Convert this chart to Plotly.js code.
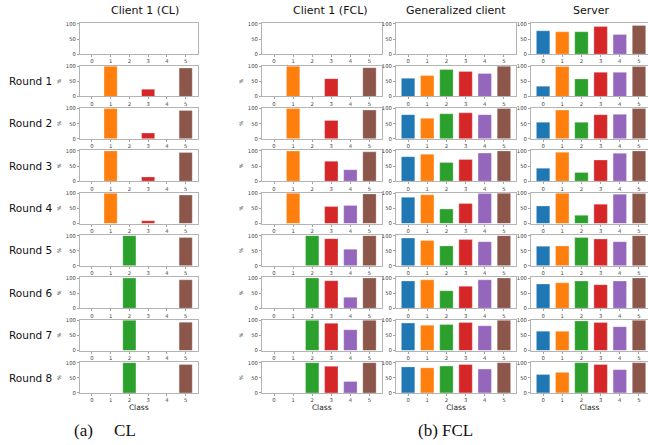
<!DOCTYPE html>
<html>
<head>
<meta charset="utf-8">
<script src="https://cdn.plot.ly/plotly-3.0.1.min.js"></script>
<style>html,body{margin:0;padding:0;background:#fff;}#chart{width:648px;height:445px;}</style>
</head>
<body>
<div id="chart"></div>
<script>
// ---- data ----
const classes = [0, 1, 2, 3, 4, 5];
const classTickText = ['0', '1', '2', '3', '4', '5'];
const rowLabels = ['', 'Round 1', 'Round 2', 'Round 3', 'Round 4', 'Round 5', 'Round 6', 'Round 7', 'Round 8'];
const columnTitles = ['Client 1 (CL)', 'Client 1 (FCL)', 'Generalized client', 'Server'];
const classColors = ['#1f77b4', '#ff7f0e', '#2ca02c', '#d62728', '#9467bd', '#8c564b'];

const clientCL = [
  [0, 0, 0, 0, 0, 0],
  [0, 100, 0, 24, 0, 94],
  [0, 100, 0, 19, 0, 94],
  [0, 100, 0, 14, 0, 95],
  [0, 100, 0, 9, 0, 94],
  [0, 0, 100, 0, 0, 94],
  [0, 0, 100, 0, 0, 94],
  [0, 0, 100, 0, 0, 94],
  [0, 0, 100, 0, 0, 94]
];
const clientFCL = [
  [0, 0, 0, 0, 0, 0],
  [0, 100, 0, 59, 0, 95],
  [0, 100, 0, 61, 0, 95],
  [0, 100, 0, 66, 38, 97],
  [0, 100, 0, 56, 60, 98],
  [0, 0, 100, 90, 55, 100],
  [0, 0, 100, 91, 36, 100],
  [0, 0, 100, 90, 69, 100],
  [0, 0, 100, 88, 38, 100]
];
const generalized = [
  [0, 0, 0, 0, 0, 0],
  [60, 69, 89, 83, 76, 100],
  [80, 68, 83, 86, 80, 100],
  [81, 89, 62, 72, 93, 100],
  [87, 95, 48, 66, 99, 100],
  [92, 84, 66, 87, 80, 100],
  [90, 94, 58, 73, 94, 100],
  [91, 84, 86, 93, 82, 100],
  [86, 83, 89, 94, 79, 100]
];
const server = [
  [77, 74, 74, 91, 65, 95],
  [34, 99, 58, 80, 80, 99],
  [55, 95, 55, 80, 81, 100],
  [43, 96, 29, 70, 92, 100],
  [58, 100, 27, 64, 97, 99],
  [65, 66, 94, 89, 80, 100],
  [80, 84, 90, 78, 90, 100],
  [64, 64, 98, 93, 79, 100],
  [61, 68, 100, 94, 77, 100]
];
const yTickVals = [0, 50, 100];

// ---- layout geometry (pixels) ----
const W = 648, H = 445;
const colFrames = [[80, 197.5], [262, 381.5], [396, 516], [531, 648]];
const colRanges = [[-0.63, 5.63], [-0.63, 5.63], [-0.63, 5.63], [-0.63, 5.47]];
const titleCenters = [145, 330, 456, 591];
const rowTop0 = 23.3, rowPitch = 42.35, rowHeight = 30.8;
const showPct = [true, true, false, false];

const columns = [clientCL, clientFCL, generalized, server];
const traces = [];
const layout = {
  width: W, height: H,
  margin: {l: 0, r: 0, t: 0, b: 0},
  paper_bgcolor: '#fff', plot_bgcolor: '#fff',
  showlegend: false,
  font: {family: 'DejaVu Sans', color: '#333'},
  annotations: []
};

for (let r = 0; r < rowLabels.length; r++) {
  const top = rowTop0 + r * rowPitch;
  const bot = top + rowHeight;
  for (let c = 0; c < columns.length; c++) {
    const k = r * 4 + c + 1;
    const xa = 'xaxis' + (k === 1 ? '' : k), ya = 'yaxis' + (k === 1 ? '' : k);
    const xr = 'x' + (k === 1 ? '' : k), yr = 'y' + (k === 1 ? '' : k);
    const vals = columns[c][r].map(v => (v > 0 ? v : null));
    traces.push({
      type: 'bar', x: classes, y: vals, xaxis: xr, yaxis: yr,
      width: 0.7,
      marker: {color: classColors, line: {width: 0.8, color: 'rgba(255,255,255,0.35)'}},
      hoverinfo: 'skip'
    });
    layout[xa] = {
      domain: [colFrames[c][0] / W, colFrames[c][1] / W],
      range: colRanges[c], anchor: yr,
      tickmode: 'array', tickvals: classes, ticktext: classTickText,
      ticks: 'outside', ticklen: 2, tickwidth: 0.6, tickcolor: '#666',
      tickfont: {size: 5.3, color: '#444'},
      showline: true, mirror: true, linecolor: '#b4b4b4', linewidth: 1,
      showgrid: false, zeroline: false, fixedrange: true
    };
    if (r === rowLabels.length - 1) {
      layout[xa].title = {text: 'Class', font: {size: 7.5, color: '#222'}, standoff: 0};
    }
    layout[ya] = {
      domain: [1 - bot / H, 1 - top / H],
      range: [0, 102], anchor: xr,
      tickmode: 'array', tickvals: yTickVals,
      ticks: 'outside', ticklen: 2, tickwidth: 0.6, tickcolor: '#666',
      tickfont: {size: 5.3, color: '#444'},
      showline: true, mirror: true, linecolor: '#b4b4b4', linewidth: 1,
      showgrid: false, zeroline: false, fixedrange: true
    };
    if (showPct[c] && r > 0) {
      layout[ya].title = {text: '%', font: {size: 5, color: '#444'}, standoff: 4};
    }
  }
  if (rowLabels[r]) {
    layout.annotations.push({
      text: rowLabels[r], xref: 'paper', yref: 'paper',
      x: 7 / W, y: 1 - (top + rowHeight / 2) / H,
      xanchor: 'left', yanchor: 'middle', showarrow: false,
      font: {size: 10.5, color: '#111', family: 'DejaVu Sans'}
    });
  }
}

for (let c = 0; c < columnTitles.length; c++) {
  layout.annotations.push({
    text: columnTitles[c], xref: 'paper', yref: 'paper',
    x: titleCenters[c] / W, y: 1 - 10 / H,
    xanchor: 'center', yanchor: 'middle', showarrow: false,
    font: {size: 11, color: '#111', family: 'DejaVu Sans'}
  });
}

layout.annotations.push({
  text: '(a)\u00a0\u00a0\u00a0\u00a0\u00a0CL', xref: 'paper', yref: 'paper',
  x: 72 / W, y: 1 - 430 / H, xanchor: 'left', yanchor: 'middle', showarrow: false,
  font: {size: 17, color: '#111', family: 'Liberation Serif'}
});
layout.annotations.push({
  text: '(b) FCL', xref: 'paper', yref: 'paper',
  x: 446 / W, y: 1 - 430 / H, xanchor: 'center', yanchor: 'middle', showarrow: false,
  font: {size: 17, color: '#111', family: 'Liberation Serif'}
});

Plotly.newPlot('chart', traces, layout, {staticPlot: true, displayModeBar: false});
</script>
</body>
</html>
